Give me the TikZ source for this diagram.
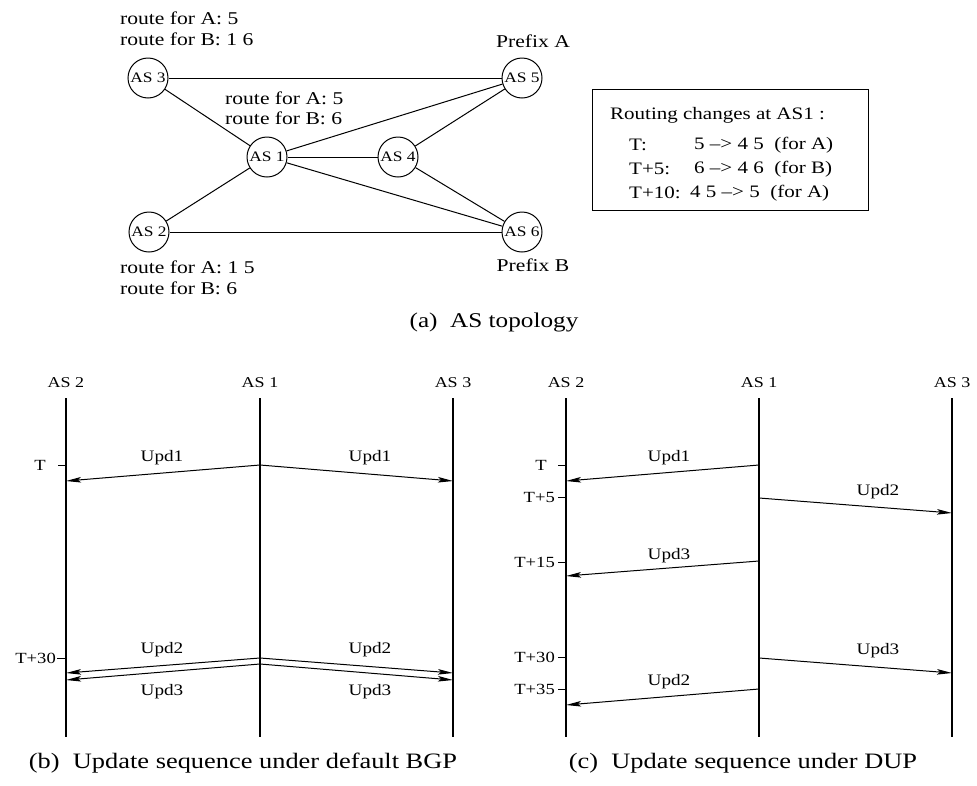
\documentclass[tikz,border=0pt]{standalone}
\usepackage{fontspec}
\setmainfont{Liberation Serif}[FakeStretch=1.2]
\usetikzlibrary{arrows.meta}

\begin{document}
\begin{tikzpicture}[x=1pt,y=-1pt,
  asnode/.style={circle,draw,line width=1pt,minimum size=40pt,inner sep=0pt,
                 font=\fontsize{14.5}{16}\selectfont},
  lbl/.style={font=\fontsize{18}{21}\selectfont,inner sep=0pt},
  boxlbl/.style={font=\fontsize{17.5}{21}\selectfont,inner sep=0pt,anchor=west},
  seqlbl/.style={font=\fontsize{15}{17}\selectfont,inner sep=0pt},
  updlbl/.style={font=\fontsize{16}{18}\selectfont,inner sep=0pt},
  timelbl/.style={font=\fontsize{15.5}{17}\selectfont,inner sep=0pt,anchor=east},
  caption/.style={font=\fontsize{22}{25}\selectfont,inner sep=0pt},
  link/.style={line width=1pt},
  life/.style={line width=1.2pt},
  tick/.style={line width=1pt},
  msg/.style={line width=1pt,-{Stealth[length=15pt,width=5.5pt,inset=3pt]}},
]
\useasboundingbox (0,0) rectangle (977,785);

% ---------------- (a) AS topology ----------------
\node[asnode] (as3) at (148,78)  {AS 3};
\node[asnode] (as5) at (522,78)  {AS 5};
\node[asnode] (as1) at (267,157) {AS 1};
\node[asnode] (as4) at (398,157) {AS 4};
\node[asnode] (as2) at (149,232) {AS 2};
\node[asnode] (as6) at (522,232) {AS 6};

\draw[link] (as3) -- (as5);
\draw[link] (as3) -- (as1);
\draw[link] (as1) -- (as5);
\draw[link] (as1) -- (as4);
\draw[link] (as4) -- (as5);
\draw[link] (as4) -- (as6);
\draw[link] (as1) -- (as6);
\draw[link] (as1) -- (as2);
\draw[link] (as2) -- (as6);

\node[lbl,anchor=west] (r3a) at (120,18)  {route for A: 5};
\node[lbl,anchor=west] (r3b) at (120,39)  {route for B: 1 6};
\node[lbl,anchor=west] (r1a) at (225,98)  {route for A: 5};
\node[lbl,anchor=west] (r1b) at (225,118) {route for B: 6};
\node[lbl,anchor=west] (r2a) at (120,267) {route for A: 1 5};
\node[lbl,anchor=west] (r2b) at (120,288) {route for B: 6};
\node[lbl] (pfa) at (533,41)  {Prefix A};
\node[lbl] (pfb) at (533,265) {Prefix B};

% routing changes box
\node[draw,line width=1pt,minimum width=276pt,minimum height=121pt,inner sep=0pt]
  (chg) at (730,150) {};
\node[boxlbl] (chgh) at (610,115) {Routing changes at AS1 :};
\node[boxlbl] (c1t) at (629,145) {T:};
\node[boxlbl] (c1r) at (694,145) {5 --{}> 4 5\ \ (for A)};
\node[boxlbl] (c2t) at (629,169) {T+5:};
\node[boxlbl] (c2r) at (694,169) {6 --{}> 4 6\ \ (for B)};
\node[boxlbl] (c3t) at (629,193) {T+10:};
\node[boxlbl] (c3r) at (690,193) {4 5 --{}> 5\ \ (for A)};

\node[font=\fontsize{21}{24}\selectfont,inner sep=0pt] (capa) at (494,322) {(a)\ \ AS topology};

% ---------------- (b) default BGP ----------------
\node[seqlbl] (b2) at (66,383)  {AS 2};
\node[seqlbl] (b1) at (260,383) {AS 1};
\node[seqlbl] (b3) at (453,383) {AS 3};
\coordinate (b2t) at (66,398);  \coordinate (b2b) at (66,737);
\coordinate (b1t) at (260,398); \coordinate (b1b) at (260,737);
\coordinate (b3t) at (453,398); \coordinate (b3b) at (453,737);
\draw[life] (b2t) -- (b2b);
\draw[life] (b1t) -- (b1b);
\draw[life] (b3t) -- (b3b);

% time marks
\coordinate (bT0a) at (58,465);  \coordinate (bT0b) at (66,465);
\coordinate (bT30a) at (57,658); \coordinate (bT30b) at (66,658);
\draw[tick] (bT0a) -- (bT0b);
\draw[tick] (bT30a) -- (bT30b);
\node[timelbl] (bT0) at (46,465) {T};
\node[timelbl] (bT30) at (56,658) {T+30};

% messages
\coordinate (bs1) at (260,465);
\coordinate (bl1) at (66,481);  \coordinate (br1) at (453,481);
\coordinate (bs2) at (260,658);
\coordinate (bl2) at (66,673);  \coordinate (br2) at (453,673);
\coordinate (bs3) at (260,664);
\coordinate (bl3) at (66,680);  \coordinate (br3) at (453,680);
\draw[msg] (bs1) -- (bl1);
\draw[msg] (bs1) -- (br1);
\draw[msg] (bs2) -- (bl2);
\draw[msg] (bs2) -- (br2);
\draw[msg] (bs3) -- (bl3);
\draw[msg] (bs3) -- (br3);
\node[updlbl] (bu1l) at (162,458) {Upd1};
\node[updlbl] (bu1r) at (370,458) {Upd1};
\node[updlbl] (bu2l) at (162,650) {Upd2};
\node[updlbl] (bu2r) at (370,650) {Upd2};
\node[updlbl] (bu3l) at (162,692) {Upd3};
\node[updlbl] (bu3r) at (370,692) {Upd3};

\node[caption] (capb) at (243,763) {(b)\ \ Update sequence under default BGP};

% ---------------- (c) DUP ----------------
\node[seqlbl] (c2) at (566,383) {AS 2};
\node[seqlbl] (c1) at (759,383) {AS 1};
\node[seqlbl] (c3) at (952,383) {AS 3};
\coordinate (c2t) at (566,398); \coordinate (c2b) at (566,737);
\coordinate (c1t) at (759,398); \coordinate (c1b) at (759,737);
\coordinate (c3t) at (952,398); \coordinate (c3b) at (952,737);
\draw[life] (c2t) -- (c2b);
\draw[life] (c1t) -- (c1b);
\draw[life] (c3t) -- (c3b);

% time marks
\foreach \yy/\tt/\xx in {465/T/547, 497/T+5/555, 562/T+15/555, 657/T+30/555, 689/T+35/555}{
  \coordinate (ck\yy a) at (558,\yy);
  \coordinate (ck\yy b) at (566,\yy);
  \draw[tick] (ck\yy a) -- (ck\yy b);
  \node[timelbl] (ct\yy) at (\xx,\yy) {\tt};
}

% messages
\coordinate (cs1) at (759,465); \coordinate (ce1) at (566,481);
\coordinate (cs2) at (759,498); \coordinate (ce2) at (952,513);
\coordinate (cs3) at (759,561); \coordinate (ce3) at (566,576);
\coordinate (cs4) at (759,658); \coordinate (ce4) at (952,673);
\coordinate (cs5) at (759,689); \coordinate (ce5) at (566,705);
\draw[msg] (cs1) -- (ce1);
\draw[msg] (cs2) -- (ce2);
\draw[msg] (cs3) -- (ce3);
\draw[msg] (cs4) -- (ce4);
\draw[msg] (cs5) -- (ce5);
\node[updlbl] (cu1) at (669,458) {Upd1};
\node[updlbl] (cu2) at (878,492) {Upd2};
\node[updlbl] (cu3) at (669,556) {Upd3};
\node[updlbl] (cu4) at (878,651) {Upd3};
\node[updlbl] (cu5) at (669,682) {Upd2};

\node[caption] (capc) at (743,763) {(c)\ \ Update sequence under DUP};

\end{tikzpicture}
\end{document}
